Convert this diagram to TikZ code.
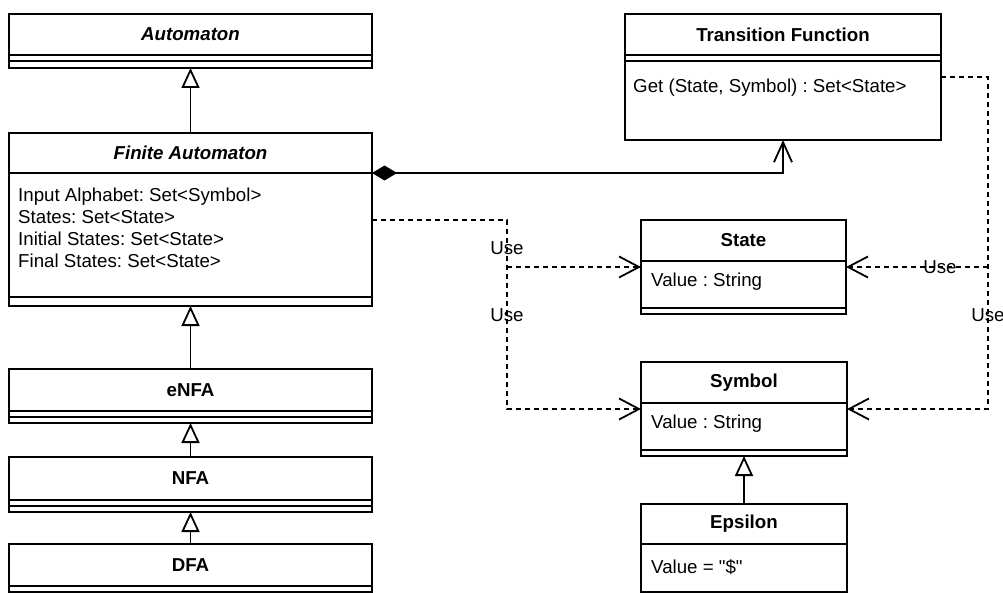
\documentclass[tikz,border=0pt]{standalone}
\usepackage{fontspec}
\setmainfont{Liberation Sans}
% same face without the TeX quote mapping, for straight quotes
\newfontfamily\straightquotes{Liberation Sans}
\usetikzlibrary{arrows.meta,calc}
\frenchspacing

% a UML class: frame node #1, header node #1h holding the title #7
% #2,#3 = top-left, #4,#5 = bottom-right, #6 = bottom of the header
\newcommand\umlclass[7]{%
  \node[classframe, minimum width={(#4-#2)*1pt}, minimum height={(#5-#3)*1pt}]
    (#1) at ({(#2+#4)/2},{(#3+#5)/2}) {};
  \node[classhead, minimum width={(#4-#2)*1pt}, minimum height={(#6-#3)*1pt}]
    (#1h) at ({(#2+#4)/2},{(#3+#6)/2}) {#7};
}
% a separator line across class #1 at height #2
\newcommand\umlsep[2]{\draw[sepline] (#1.west |- 0,#2) -- (#1.east |- 0,#2);}

\begin{document}
\begin{tikzpicture}[x=1pt,y=-1pt,
  every node/.style={font=\fontsize{18.7}{22}\selectfont},
  classframe/.style={draw, line width=1.8pt, inner sep=0pt, outer sep=0pt, fill=white},
  classhead/.style={draw, line width=1.8pt, inner sep=0pt, outer sep=0pt,
    font=\fontsize{18.7}{22}\selectfont\bfseries},
  sepline/.style={line width=1.8pt},
  attr/.style={anchor=west, inner sep=0pt, align=left},
  gen/.style={line width=1.8pt, -{Triangle[open, length=20pt, width=18pt]}},
  dep/.style={line width=1.8pt, dash pattern=on 5pt off 4pt,
    -{Straight Barb[length=20pt, width=21pt]}},
  comp/.style={line width=1.8pt,
    {Diamond[length=25pt, width=15pt]}-{Straight Barb[length=20pt, width=18pt]}},
  lbl/.style={inner sep=0pt}
]
\useasboundingbox (0,0) rectangle (1003,593);

% left column: the automaton hierarchy
\umlclass{auto}{9}{14}{372}{68}{55}{\textit{Automaton}}
\umlsep{auto}{61}

\umlclass{fa}{9}{133}{372}{306}{173}{\textit{Finite Automaton}}
\umlsep{fa}{297}
\node[attr] (faattr) at (18,228) {Input Alphabet: Set<Symbol>\\States: Set<State>\\Initial States: Set<State>\\Final States: Set<State>};

\umlclass{enfa}{9}{369}{372}{423}{411}{eNFA}
\umlsep{enfa}{417}

\umlclass{nfa}{9}{457}{372}{512}{500}{NFA}
\umlsep{nfa}{506}

\umlclass{dfa}{9}{544}{372}{592}{586}{DFA}

% right column
\umlclass{tf}{625}{14}{941}{140}{55}{Transition Function}
\umlsep{tf}{61}
\node[attr] (tfop) at (633,88) {Get (State, Symbol) : Set<State>};

\umlclass{state}{641}{220}{846}{314}{261}{State}
\umlsep{state}{308}
\node[attr] (stattr) at (651,282) {Value : String};

\umlclass{symbol}{641}{362}{847}{456}{403}{Symbol}
\umlsep{symbol}{450}
\node[attr] (syattr) at (651,424) {Value : String};

\umlclass{eps}{641}{504}{847}{592}{544}{Epsilon}
\node[attr] (epattr) at (651,567) {Value = {\straightquotes"\$"}};

% generalizations
\draw[gen] (fa.north) -- (auto.south);
\draw[gen] (enfa.north) -- (fa.south);
\draw[gen] (nfa.north) -- (enfa.south);
\draw[gen] (dfa.north) -- (nfa.south);
\draw[gen] (eps.north) -- (symbol.south);

% composition
\draw[comp] (fah.south east) -| (tf.south);

% dependencies from Finite Automaton
\coordinate (lj) at (state.north -| 507,0);
\draw[dep] (fa.east |- state.north) -- (lj) |- (symbol.west);
\draw[dep] (lj |- state.west) -- (state.west);
\node[lbl] (use1) at (507,248) {Use};
\node[lbl] (use2) at (507,315) {Use};

% dependencies from Transition Function
\coordinate (rj) at ($(tf.east)+(47,0)$);
\draw[dep] (tf.east) -- (rj) |- (symbol.east);
\draw[dep] (rj |- state.east) -- (state.east);
\node[lbl] (use3) at (940,267) {Use};
\node[lbl] (use4) at (988,315) {Use};
\end{tikzpicture}
\end{document}
